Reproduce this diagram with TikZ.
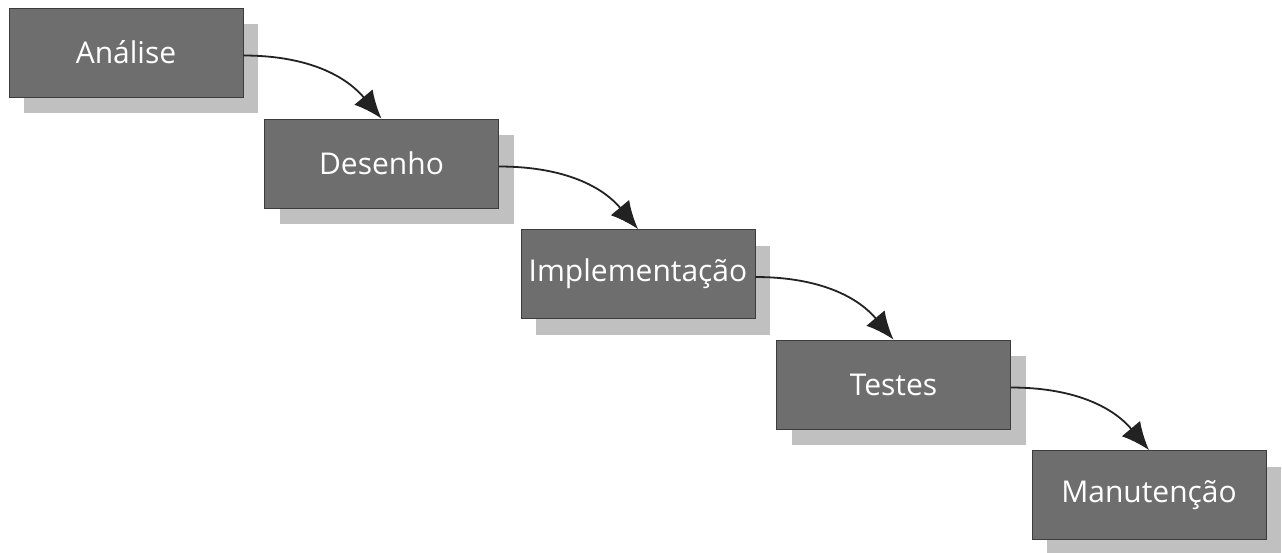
\documentclass[tikz,border=0pt]{standalone}
\usepackage{fontspec}
\setmainfont{Open Sans}
\usetikzlibrary{shadows,arrows.meta}
\definecolor{boxfill}{HTML}{6E6E6E}
\definecolor{boxline}{HTML}{3C3C3C}
\definecolor{shadowgray}{HTML}{C0C0C0}
\definecolor{arrowcol}{HTML}{222222}
\tikzset{
  phase/.style={draw=boxline, line width=0.8pt, fill=boxfill,
    minimum width=234pt, minimum height=89pt, inner sep=0pt,
    text=white, font=\fontsize{30}{36}\selectfont,
    general shadow={fill=shadowgray, shadow xshift=15pt, shadow yshift=-16pt}},
  flow/.style={draw=arrowcol, line width=1.8pt,
    -{Latex[length=28pt,width=24pt]}}
}
\begin{document}
\begin{tikzpicture}[x=1pt,y=1pt]
\useasboundingbox (0,0) rectangle (1282,-552);
\node[phase] (analise) at (126,-52.5) {Análise};
\node[phase] (desenho) at (381.5,-163.5) {Desenho};
\node[phase] (impl) at (638,-274) {Implementação};
\node[phase] (testes) at (893.5,-384.5) {Testes};
\node[phase] (manut) at (1149,-495) {Manutenção};
\draw[flow] ([yshift=-3pt]analise.east) to[out=0,in=130] (desenho.north);
\draw[flow] ([yshift=-3pt]desenho.east) to[out=0,in=130] (impl.north);
\draw[flow] ([yshift=-3pt]impl.east) to[out=0,in=130] (testes.north);
\draw[flow] ([yshift=-3pt]testes.east) to[out=0,in=130] (manut.north);
\end{tikzpicture}
\end{document}
